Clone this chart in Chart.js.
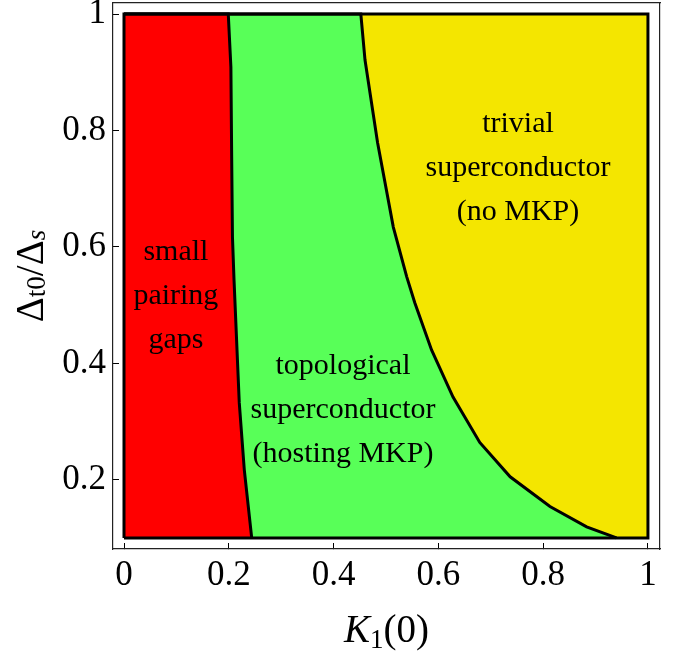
<!DOCTYPE html>
<html><head><meta charset="utf-8">
<script src="https://cdn.jsdelivr.net/npm/chart.js@4.4.1/dist/chart.umd.min.js"></script>
<style>html,body{margin:0;padding:0;background:#fff}#wrap{width:690px;height:656px}</style>
</head><body><div id="wrap"><canvas id="c" width="690" height="656"></canvas></div>
<script>
// tick values and labels
const xTickValues = [0, 0.2, 0.4, 0.6, 0.8, 1];
const xTickLabels = ['0', '0.2', '0.4', '0.6', '0.8', '1'];
const yTickValues = [0.2, 0.4, 0.6, 0.8, 1];
const yTickLabels = ['0.2', '0.4', '0.6', '0.8', '1'];

// boundary: small pairing gaps | topological superconductor
const b1K = [0.199, 0.204, 0.2055, 0.207, 0.210, 0.220, 0.2296, 0.2437];
const b1D = [1.0, 0.909, 0.755, 0.617, 0.543, 0.332, 0.217, 0.1];
// boundary: topological | trivial superconductor
const b2K = [0.452, 0.460, 0.484, 0.514, 0.5395, 0.555, 0.587, 0.628, 0.679, 0.737, 0.813, 0.883, 0.940];
const b2D = [1.0, 0.921, 0.779, 0.634, 0.549, 0.504, 0.423, 0.342, 0.264, 0.205, 0.154, 0.119, 0.1];

// parameter domain
const kRange = [0, 1];
const dRange = [0.1, 1];

// region labels
const regionText = [
  ['small', 'pairing', 'gaps'],
  ['topological', 'superconductor', '(hosting MKP)'],
  ['trivial', 'superconductor', '(no MKP)']
];
const regionK = [0.099, 0.418, 0.752];
const regionD = [0.516, 0.319, 0.736];

// axis titles as [text, style] runs: n = normal, i = italic, s = subscript, si = italic subscript
const xTitleRuns = [['K', 'i'], ['1', 's'], ['(0)', 'n']];
const yTitleRuns = [['\u0394', 'n'], ['t0', 's'], ['/\u0394', 'n'], ['s', 'si']];

const FONT = "'Liberation Serif', 'DejaVu Serif', serif";

const toPts = (ks, ds) => ks.map((k, i) => ({x: k, y: ds[i]}));

const redPts = [{x: kRange[0], y: dRange[1]}].concat(toPts(b1K, b1D));
const greenPts = [{x: kRange[0], y: dRange[1]}].concat(toPts(b2K, b2D));
const yellowPts = [{x: kRange[0], y: dRange[1]}, {x: kRange[1], y: dRange[1]}];
const framePts = [
  {x: kRange[0], y: dRange[0]}, {x: kRange[0], y: dRange[1]},
  {x: kRange[1], y: dRange[1]}, {x: kRange[1], y: dRange[0]},
  {x: kRange[0], y: dRange[0]}
];

function runFont(style) {
  if (style === 'i') return 'italic 39px ' + FONT;
  if (style === 's') return '27px ' + FONT;
  if (style === 'si') return 'italic 27px ' + FONT;
  return '39px ' + FONT;
}
function drawRuns(ctx, runs, subDrop) {
  let total = 0;
  const widths = runs.map(r => { ctx.font = runFont(r[1]); const w = ctx.measureText(r[0]).width; total += w; return w; });
  let x = -total / 2;
  runs.forEach((r, i) => {
    ctx.font = runFont(r[1]);
    const dy = (r[1] === 's' || r[1] === 'si') ? subDrop : 0;
    ctx.fillText(r[0], x, dy);
    x += widths[i];
  });
}

const labelPlugin = {
  id: 'regionLabels',
  afterDatasetsDraw(chart) {
    const ctx = chart.ctx;
    const xs = chart.scales.x, ys = chart.scales.y;
    const area = chart.chartArea;
    ctx.save();
    ctx.fillStyle = '#000';
    ctx.font = "30px " + FONT;
    ctx.textAlign = 'center';
    ctx.textBaseline = 'middle';
    const lh = 44;
    regionText.forEach((lines, i) => {
      const cx = xs.getPixelForValue(regionK[i]);
      const cy = ys.getPixelForValue(regionD[i]);
      lines.forEach((t, j) => {
        ctx.fillText(t, cx, cy + (j - (lines.length - 1) / 2) * lh);
      });
    });
    ctx.textAlign = 'left';
    ctx.textBaseline = 'alphabetic';
    ctx.save();
    ctx.translate((area.left + area.right) / 2, xs.bottom - 14);
    drawRuns(ctx, xTitleRuns, 6);
    ctx.restore();
    ctx.save();
    ctx.translate(43, (area.top + area.bottom) / 2);
    ctx.rotate(-Math.PI / 2);
    drawRuns(ctx, yTitleRuns, 2);
    ctx.restore();
    ctx.restore();
  }
};

const common = {pointRadius: 0, pointHoverRadius: 0, tension: 0};
const noPadX = s => { s.paddingLeft = 0; s.paddingRight = 0; };
const noPadY = s => { s.paddingTop = 0; s.paddingBottom = 0; };

new Chart(document.getElementById('c'), {
  type: 'line',
  data: {
    datasets: [
      Object.assign({data: framePts, borderColor: '#000', borderWidth: 3, fill: false}, common),
      Object.assign({data: redPts, borderColor: '#000', borderWidth: 3, backgroundColor: '#ff0000', fill: {value: dRange[0]}}, common),
      Object.assign({data: greenPts, borderColor: '#000', borderWidth: 3, backgroundColor: '#58ff58', fill: {value: dRange[0]}}, common),
      Object.assign({data: yellowPts, borderColor: 'rgba(0,0,0,0)', borderWidth: 0, backgroundColor: '#f4e600', fill: {value: dRange[0]}}, common)
    ]
  },
  options: {
    responsive: false,
    animation: false,
    devicePixelRatio: 1,
    layout: {padding: 0},
    plugins: {legend: {display: false}, tooltip: {enabled: false}},
    scales: {
      x: {
        type: 'linear', position: 'bottom', min: -0.021, max: 1.023,
        afterBuildTicks: s => { s.ticks = xTickValues.map(v => ({value: v})); },
        afterFit: s => { s.height = 107; noPadX(s); },
        ticks: {
          callback: (v, i) => xTickLabels[i],
          color: '#000', padding: 12, maxRotation: 0, autoSkip: false,
          font: {family: FONT, size: 35}
        },
        grid: {drawOnChartArea: false, drawTicks: true, tickLength: -6, tickColor: '#000', tickWidth: 1},
        border: {display: true, color: '#222', width: 1.2},
        title: {display: false}
      },
      x2: {
        type: 'linear', position: 'top', min: -0.021, max: 1.023,
        afterFit: s => { s.height = 3; noPadX(s); },
        ticks: {display: false},
        grid: {display: false},
        border: {display: true, color: '#222', width: 1.2}
      },
      y: {
        type: 'linear', position: 'left', min: 0.081, max: 1.019,
        afterBuildTicks: s => { s.ticks = yTickValues.map(v => ({value: v})); },
        afterFit: s => { s.width = 113; noPadY(s); },
        ticks: {
          callback: (v, i) => yTickLabels[i],
          color: '#000', padding: 13, autoSkip: false,
          font: {family: FONT, size: 35}
        },
        grid: {drawOnChartArea: false, drawTicks: true, tickLength: -6, tickColor: '#000', tickWidth: 1},
        border: {display: true, color: '#222', width: 1.2},
        title: {display: false}
      },
      y2: {
        type: 'linear', position: 'right', min: 0.081, max: 1.019,
        afterFit: s => { s.width = 30; noPadY(s); },
        ticks: {display: false},
        grid: {display: false},
        border: {display: true, color: '#222', width: 1.2}
      }
    }
  },
  plugins: [labelPlugin]
});
</script>
</body></html>
